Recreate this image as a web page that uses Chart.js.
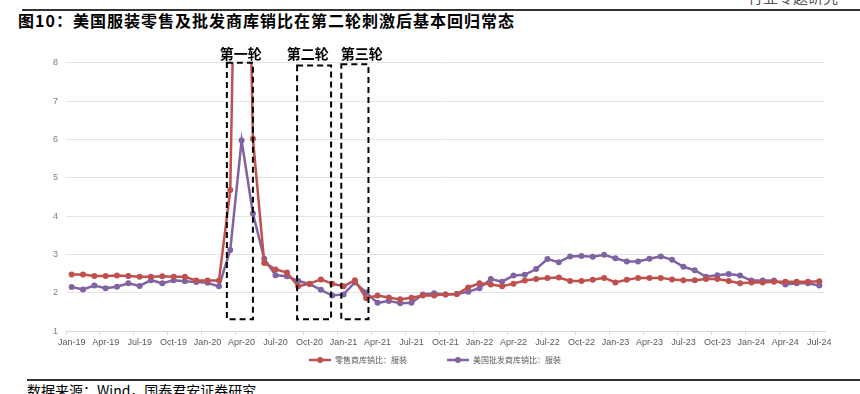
<!DOCTYPE html>
<html><head><meta charset="utf-8">
<script src="https://cdn.jsdelivr.net/npm/chart.js@4.4.1/dist/chart.umd.min.js"></script>
<style>
html,body{margin:0;padding:0;background:#fff;}
#wrap{position:relative;width:860px;height:394px;overflow:hidden;background:#fff;}
#cv{position:absolute;left:0;top:0;}
.t{position:absolute;white-space:nowrap;font-family:"Noto Sans CJK SC",sans-serif;}
</style></head><body>
<div id="wrap">
<div class="t" style="right:22px;top:-12px;font-size:15px;line-height:17px;color:#555;">行业专题研究</div>
<div style="position:absolute;left:22px;right:0;top:9px;height:2px;background:#333;"></div>
<div class="t" style="left:18px;top:12px;font-size:16px;line-height:17px;letter-spacing:1px;font-weight:bold;color:#000;">图10：美国服装零售及批发商库销比在第二轮刺激后基本回归常态</div>
<canvas id="cv" width="860" height="374"></canvas>
<div style="position:absolute;left:27px;right:0;top:379px;height:2px;background:#333;"></div>
<div class="t" style="left:27px;top:382px;font-size:14px;line-height:16px;color:#000;">数据来源：Wind，国泰君安证券研究</div>
</div>
<script>
const months = [
 'Jan-19','Feb-19','Mar-19','Apr-19','May-19','Jun-19','Jul-19','Aug-19','Sep-19','Oct-19','Nov-19','Dec-19',
 'Jan-20','Feb-20','Mar-20','Apr-20','May-20','Jun-20','Jul-20','Aug-20','Sep-20','Oct-20','Nov-20','Dec-20',
 'Jan-21','Feb-21','Mar-21','Apr-21','May-21','Jun-21','Jul-21','Aug-21','Sep-21','Oct-21','Nov-21','Dec-21',
 'Jan-22','Feb-22','Mar-22','Apr-22','May-22','Jun-22','Jul-22','Aug-22','Sep-22','Oct-22','Nov-22','Dec-22',
 'Jan-23','Feb-23','Mar-23','Apr-23','May-23','Jun-23','Jul-23','Aug-23','Sep-23','Oct-23','Nov-23','Dec-23',
 'Jan-24','Feb-24','Mar-24','Apr-24','May-24','Jun-24','Jul-24'
];
const retailName = '零售商库销比：服装';
const wholesaleName = '美国批发商库销比：服装';
const retailRatio = [
 2.48,2.48,2.44,2.44,2.45,2.44,2.42,2.42,2.43,2.42,2.42,2.32,
 2.32,2.32,4.68,21.0,6.02,2.78,2.61,2.53,2.17,2.24,2.35,2.24,
 2.17,2.33,1.86,1.93,1.88,1.83,1.87,1.93,1.93,1.96,1.97,2.14,
 2.25,2.22,2.17,2.24,2.32,2.36,2.39,2.40,2.31,2.31,2.34,2.39,
 2.27,2.34,2.39,2.39,2.39,2.35,2.33,2.33,2.36,2.36,2.31,2.25,
 2.27,2.27,2.29,2.29,2.29,2.29,2.30
];
const wholesaleRatio = [
 2.15,2.09,2.19,2.12,2.16,2.25,2.18,2.33,2.25,2.33,2.30,2.28,
 2.26,2.17,3.12,5.97,4.07,2.89,2.46,2.43,2.31,2.23,2.08,1.93,
 1.96,2.27,2.01,1.74,1.79,1.73,1.74,1.96,1.99,1.96,1.97,2.03,
 2.12,2.36,2.29,2.45,2.47,2.62,2.88,2.80,2.95,2.96,2.94,2.99,
 2.90,2.82,2.82,2.89,2.95,2.86,2.68,2.59,2.42,2.46,2.49,2.45,
 2.32,2.32,2.32,2.22,2.25,2.25,2.19
];
const yMin = 1, yMax = 8, yStep = 1;
// stimulus rounds (category index range, value range)
const roundNames = ['第一轮','第二轮','第三轮'];
const roundStart = [13.7, 19.9, 23.8];
const roundEnd = [16.0, 22.9, 26.2];
const roundTop = [8.0, 7.93, 7.96];
const roundBottom = [1.31, 1.31, 1.31];
const roundLabelAt = [14.93, 20.84, 25.6];

const RED = '#C0504D', PURPLE = '#8064A2';

function legendMarker(color){
  const c = document.createElement('canvas');
  c.width = 22; c.height = 8;
  const g = c.getContext('2d');
  g.strokeStyle = color; g.lineWidth = 2.5;
  g.beginPath(); g.moveTo(0,4); g.lineTo(22,4); g.stroke();
  g.fillStyle = color; g.beginPath(); g.arc(11,4,3,0,Math.PI*2); g.fill();
  return c;
}
const markers = [legendMarker(RED), legendMarker(PURPLE)];

const roundsPlugin = {
  id: 'rounds',
  afterDatasetsDraw(chart){
    const {ctx, scales:{x, y}} = chart;
    ctx.save();
    ctx.strokeStyle = '#000'; ctx.lineWidth = 2; ctx.setLineDash([6,4]);
    for (let i=0;i<roundNames.length;i++){
      const l = x.getPixelForValue(roundStart[i]), r = x.getPixelForValue(roundEnd[i]);
      const t = y.getPixelForValue(roundTop[i]), b = y.getPixelForValue(roundBottom[i]);
      ctx.strokeRect(l, t, r-l, b-t);
    }
    ctx.setLineDash([]);
    ctx.fillStyle = '#000';
    ctx.font = 'bold 14px "Noto Sans CJK SC"';
    ctx.textAlign = 'center'; ctx.textBaseline = 'middle';
    for (let i=0;i<roundNames.length;i++){
      ctx.fillText(roundNames[i], x.getPixelForValue(roundLabelAt[i]), y.getPixelForValue(yMax) - 9);
    }
    ctx.restore();
  }
};

new Chart(document.getElementById('cv'), {
  type: 'line',
  data: {
    labels: months,
    datasets: [
      {label: retailName, data: retailRatio, borderColor: RED, backgroundColor: RED,
       borderWidth: 2.5, pointRadius: 3, pointBackgroundColor: RED, pointBorderWidth: 0, tension: 0},
      {label: wholesaleName, data: wholesaleRatio, borderColor: PURPLE, backgroundColor: PURPLE,
       borderWidth: 2.5, pointRadius: 3, pointBackgroundColor: PURPLE, pointBorderWidth: 0, tension: 0}
    ]
  },
  options: {
    responsive: false,
    animation: false,
    layout: {padding: {left: 45, right: 35, top: 62.7, bottom: 0}},
    plugins: {
      legend: {
        position: 'bottom',
        labels: {
          color: '#595959',
          font: {size: 8, family: '"Noto Sans CJK SC"'},
          usePointStyle: true,
          pointStyleWidth: 22,
          padding: 6,
          generateLabels(chart){
            const items = Chart.defaults.plugins.legend.labels.generateLabels(chart);
            items.forEach((it, i) => {
              it.pointStyle = markers[i];
              if (i < items.length - 1) it.text = it.text + '\u3000\u3000\u3000\u3000 ';
            });
            return items;
          }
        }
      },
      tooltip: {enabled: false}
    },
    scales: {
      x: {
        offset: true,
        border: {display: true, color: '#d9d9d9'},
        grid: {
          offset: true, drawOnChartArea: false, drawTicks: true, tickLength: 4,
          color: (c) => (c.index % 3 === 0 ? '#d9d9d9' : 'rgba(0,0,0,0)')
        },
        ticks: {
          autoSkip: false, maxRotation: 0, minRotation: 0, padding: 2,
          color: '#595959', font: {size: 9, family: '"Liberation Sans", Arial'},
          callback: function(v, i){ return i % 3 === 0 ? months[i] : ''; }
        }
      },
      y: {
        min: yMin, max: yMax,
        border: {display: false},
        grid: {color: '#e4e4e4', drawTicks: false},
        ticks: {stepSize: yStep, padding: 8, color: '#7f7f7f', font: {size: 9, family: '"Liberation Sans", Arial'}}
      }
    }
  },
  plugins: [roundsPlugin]
});
</script>
</body></html>
